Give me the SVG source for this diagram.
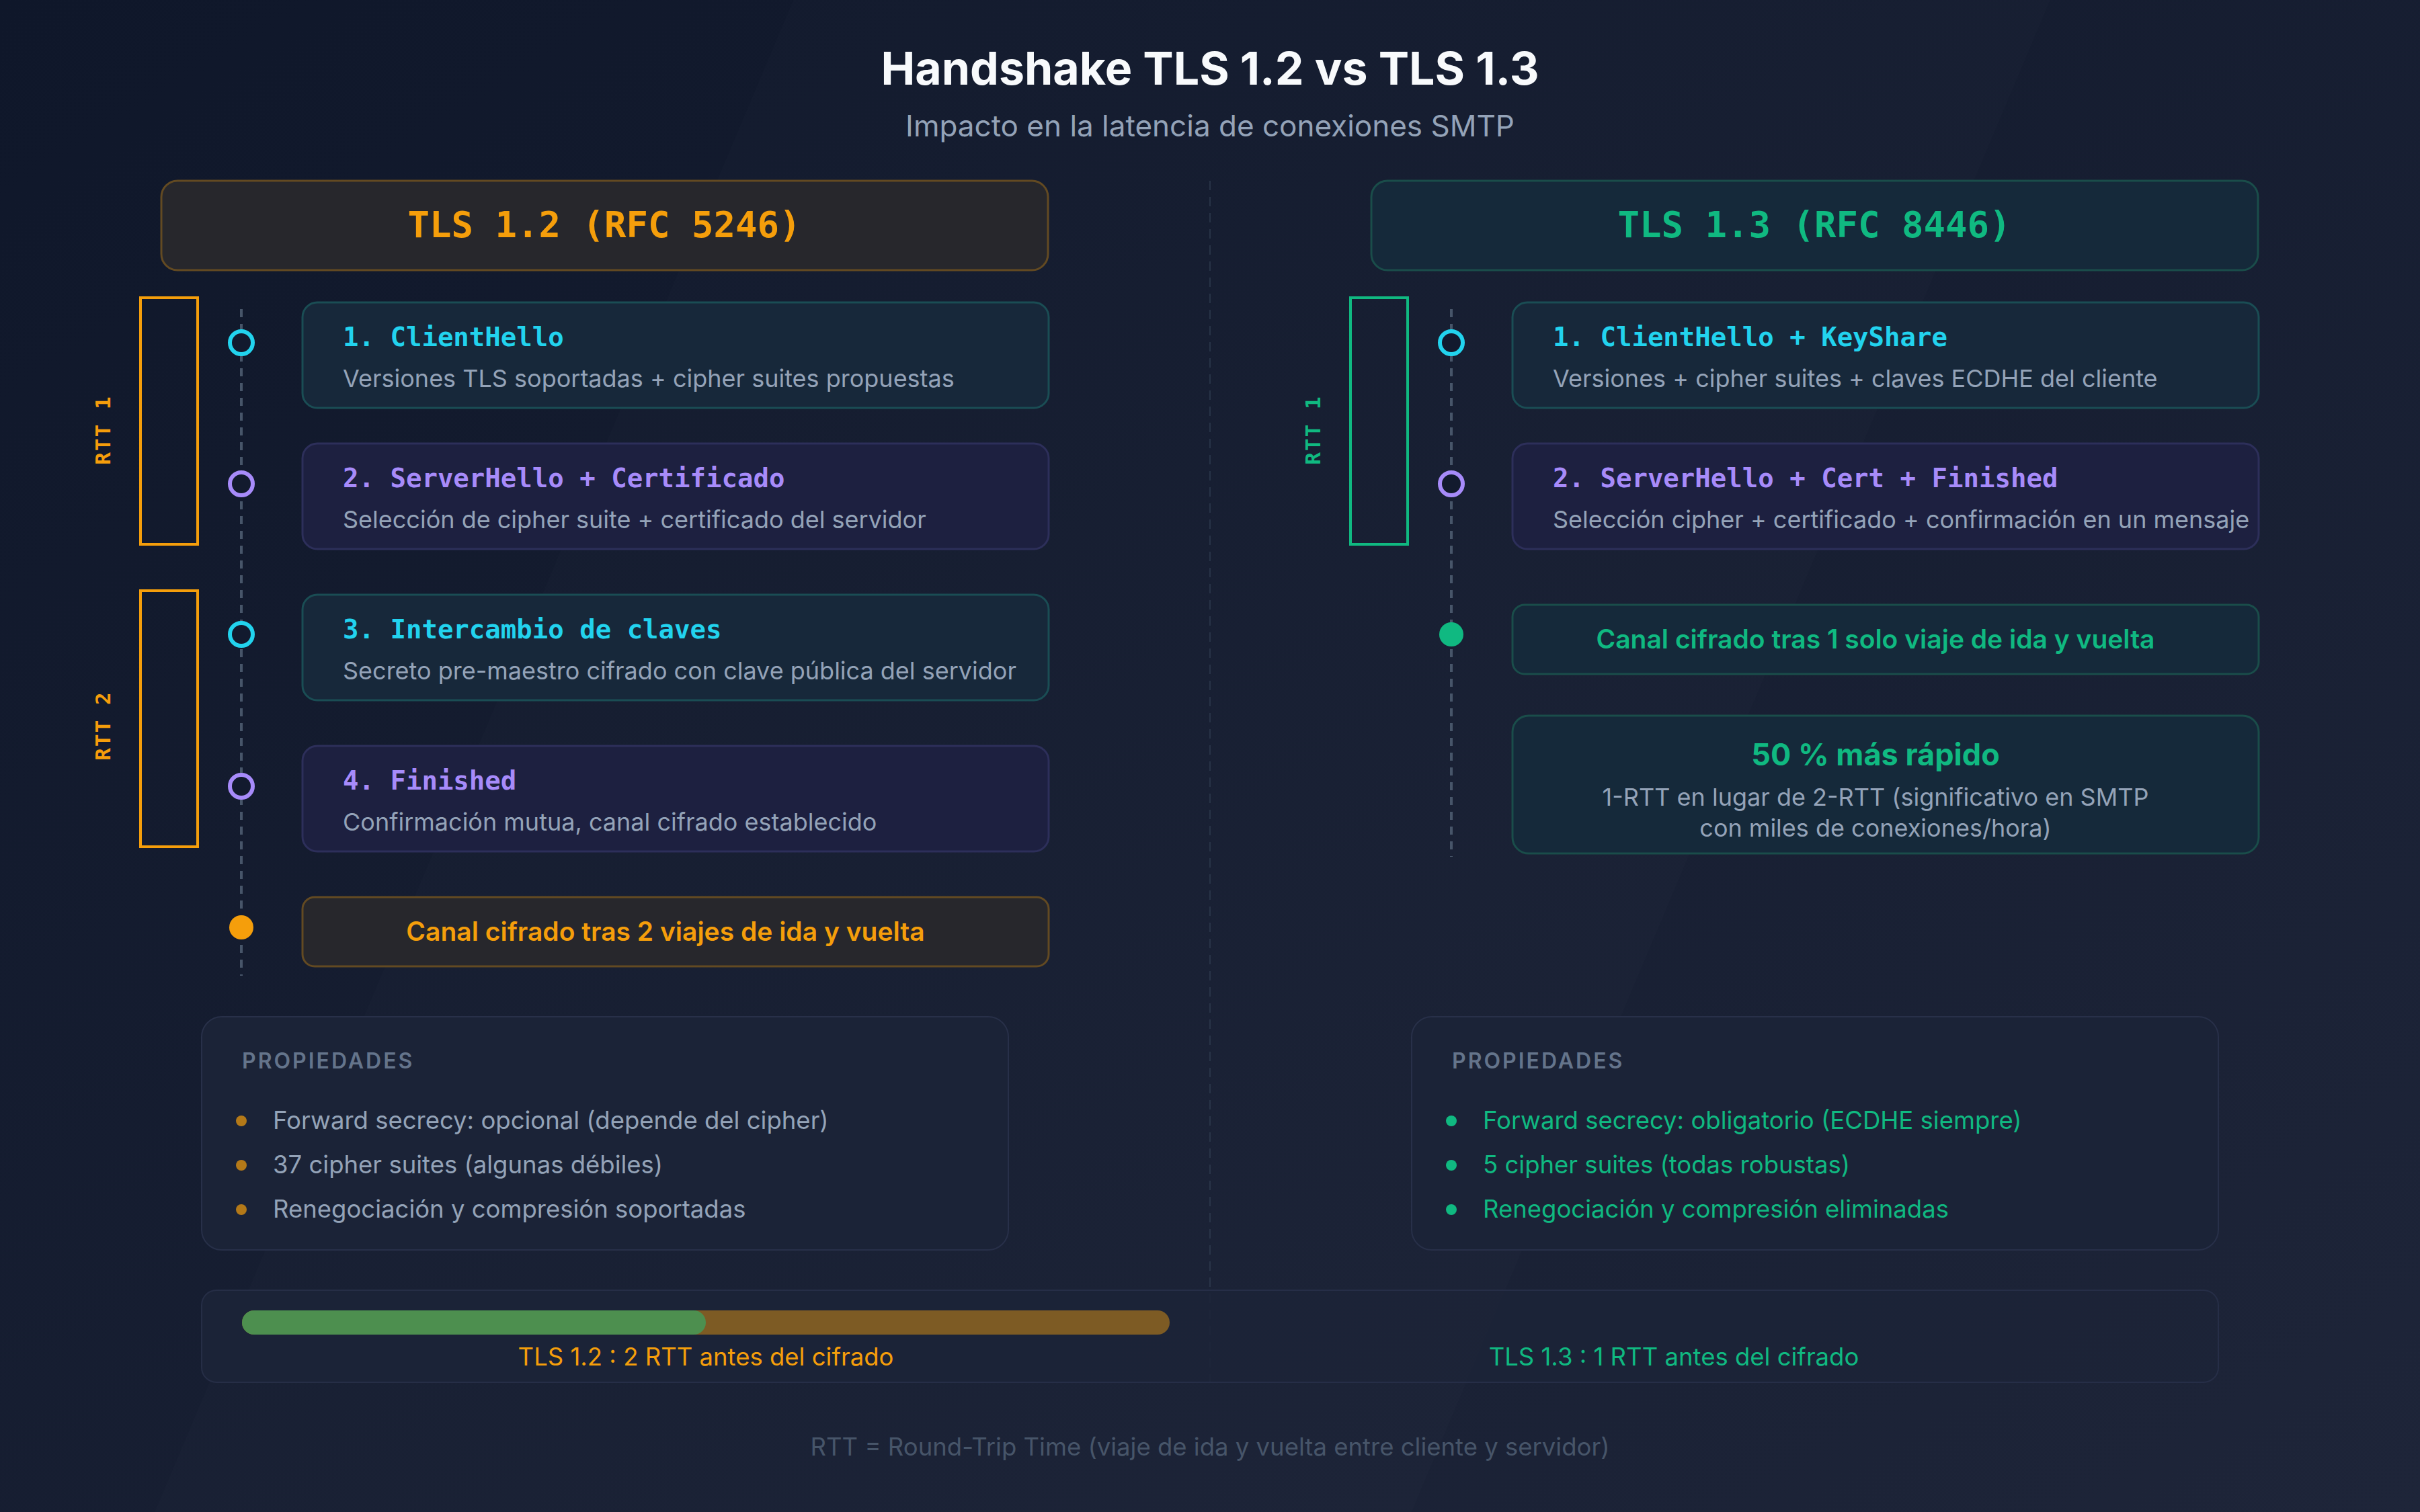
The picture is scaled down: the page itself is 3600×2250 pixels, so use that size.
<svg xmlns="http://www.w3.org/2000/svg" width="3600" height="2250" viewBox="0 0 3600 2250">
<defs>
<linearGradient id="bg" x1="0" y1="0" x2="1" y2="1">
<stop offset="0" stop-color="#0f172a"/>
<stop offset="1" stop-color="#1e2539"/>
</linearGradient>
<style>
.sans{font-family:Inter,"Noto Sans","Liberation Sans",sans-serif}
.mono{font-family:"DejaVu Sans Mono","Liberation Mono",monospace;font-weight:700}
.title{font-size:68px;font-weight:700;fill:#f8fafc}
.subtitle{font-size:44px;fill:#94a3b8}
.hdr{font-size:54px}
.step{font-size:39px}
.sub{font-size:36px;fill:#94a3b8}
.rtt{font-size:31px;letter-spacing:2px}
.cyanBox{fill:#17283a;stroke:#1a4d54;stroke-width:3}
.purpleBox{fill:#1d2040;stroke:#2d2f5a;stroke-width:3}
.orangeBox{fill:#27272c;stroke:#634a22;stroke-width:3}
.greenBox{fill:#15293a;stroke:#1a4d4a;stroke-width:3}
.props{fill:#1b2337;stroke:#283049;stroke-width:2}
.tl{stroke:#475569;stroke-width:4;stroke-dasharray:12 10}
.ring{fill:#121a2e;stroke-width:6}
.propTitle{font-size:32px;font-weight:600;fill:#64748b;letter-spacing:3px}
.item{font-size:36.5px}
.done{font-size:39px;font-weight:600}
</style>
</defs>
<rect width="3600" height="2250" fill="url(#bg)"/>
<polygon points="1180,0 3050,0 2100,2250 230,2250" fill="#ffffff" opacity="0.012"/>

<g id="title">
<text class="sans title" x="1800" y="126" text-anchor="middle">Handshake TLS 1.2 vs TLS 1.3</text>
<text class="sans subtitle" x="1800" y="203" text-anchor="middle">Impacto en la latencia de conexiones SMTP</text>
</g>

<g id="connectors">
<line x1="1800" y1="269" x2="1800" y2="2057" stroke="#334155" stroke-width="2" stroke-dasharray="14 10" opacity="0.6"/>
<line class="tl" x1="359" y1="460" x2="359" y2="1452"/>
<line class="tl" x1="2159" y1="460" x2="2159" y2="1275"/>
</g>

<g id="tls12-header">
<rect x="240" y="269" width="1319" height="133" rx="24" class="orangeBox"/>
<text class="mono hdr" x="899" y="353" text-anchor="middle" fill="#f59e0b">TLS 1.2 (RFC 5246)</text>
</g>
<g id="tls13-header">
<rect x="2040" y="269" width="1319" height="133" rx="24" class="greenBox"/>
<text class="mono hdr" x="2699" y="353" text-anchor="middle" fill="#10b981">TLS 1.3 (RFC 8446)</text>
</g>

<g id="tls12-rtt1">
<rect x="209" y="443" width="85" height="367" fill="none" stroke="#f59e0b" stroke-width="4"/>
<text class="mono rtt" x="0" y="0" transform="translate(164 640) rotate(-90)" text-anchor="middle" fill="#f59e0b">RTT 1</text>
</g>
<g id="tls12-rtt2">
<rect x="209" y="879" width="85" height="381" fill="none" stroke="#f59e0b" stroke-width="4"/>
<text class="mono rtt" x="0" y="0" transform="translate(164 1080) rotate(-90)" text-anchor="middle" fill="#f59e0b">RTT 2</text>
</g>
<g id="tls13-rtt1">
<rect x="2009" y="443" width="85" height="367" fill="none" stroke="#10b981" stroke-width="4"/>
<text class="mono rtt" x="0" y="0" transform="translate(1964 640) rotate(-90)" text-anchor="middle" fill="#10b981">RTT 1</text>
</g>

<g id="tls12-step1">
<circle cx="359" cy="510" r="17" class="ring" stroke="#22d3ee"/>
<rect x="450" y="450" width="1110" height="157" rx="22" class="cyanBox"/>
<text class="mono step" x="510" y="515" fill="#22d3ee">1. ClientHello</text>
<text class="sans sub" x="510" y="576">Versiones TLS soportadas + cipher suites propuestas</text>
</g>
<g id="tls12-step2">
<circle cx="359" cy="720" r="17" class="ring" stroke="#a78bfa"/>
<rect x="450" y="660" width="1110" height="157" rx="22" class="purpleBox"/>
<text class="mono step" x="510" y="725" fill="#a78bfa">2. ServerHello + Certificado</text>
<text class="sans sub" x="510" y="786">Selección de cipher suite + certificado del servidor</text>
</g>
<g id="tls12-step3">
<circle cx="359" cy="944" r="17" class="ring" stroke="#22d3ee"/>
<rect x="450" y="885" width="1110" height="157" rx="22" class="cyanBox"/>
<text class="mono step" x="510" y="950" fill="#22d3ee">3. Intercambio de claves</text>
<text class="sans sub" x="510" y="1011">Secreto pre-maestro cifrado con clave pública del servidor</text>
</g>
<g id="tls12-step4">
<circle cx="359" cy="1170" r="17" class="ring" stroke="#a78bfa"/>
<rect x="450" y="1110" width="1110" height="157" rx="22" class="purpleBox"/>
<text class="mono step" x="510" y="1175" fill="#a78bfa">4. Finished</text>
<text class="sans sub" x="510" y="1236">Confirmación mutua, canal cifrado establecido</text>
</g>
<g id="tls12-done">
<circle cx="359" cy="1380" r="18" fill="#f59e0b"/>
<rect x="450" y="1335" width="1110" height="103" rx="18" class="orangeBox"/>
<text class="sans done" x="990" y="1400" text-anchor="middle" fill="#f59e0b">Canal cifrado tras 2 viajes de ida y vuelta</text>
</g>

<g id="tls13-step1">
<circle cx="2159" cy="510" r="17" class="ring" stroke="#22d3ee"/>
<rect x="2250" y="450" width="1110" height="157" rx="22" class="cyanBox"/>
<text class="mono step" x="2310" y="515" fill="#22d3ee">1. ClientHello + KeyShare</text>
<text class="sans sub" x="2310" y="576">Versiones + cipher suites + claves ECDHE del cliente</text>
</g>
<g id="tls13-step2">
<circle cx="2159" cy="720" r="17" class="ring" stroke="#a78bfa"/>
<rect x="2250" y="660" width="1110" height="157" rx="22" class="purpleBox"/>
<text class="mono step" x="2310" y="725" fill="#a78bfa">2. ServerHello + Cert + Finished</text>
<text class="sans sub" x="2310" y="786">Selección cipher + certificado + confirmación en un mensaje</text>
</g>
<g id="tls13-done">
<circle cx="2159" cy="944" r="18" fill="#10b981"/>
<rect x="2250" y="900" width="1110" height="103" rx="18" class="greenBox"/>
<text class="sans done" x="2790" y="965" text-anchor="middle" fill="#10b981">Canal cifrado tras 1 solo viaje de ida y vuelta</text>
</g>
<g id="tls13-gain">
<rect x="2250" y="1065" width="1110" height="205" rx="24" class="greenBox"/>
<text class="sans" x="2790" y="1139" text-anchor="middle" fill="#10b981" font-size="45" font-weight="700">50 % más rápido</text>
<text class="sans sub" x="2790" y="1199" text-anchor="middle">1-RTT en lugar de 2-RTT (significativo en SMTP</text>
<text class="sans sub" x="2790" y="1245" text-anchor="middle">con miles de conexiones/hora)</text>
</g>

<g id="tls12-props">
<rect x="300" y="1513" width="1200" height="347" rx="30" class="props"/>
<text class="sans propTitle" x="360" y="1590">PROPIEDADES</text>
<circle cx="359" cy="1668" r="8" fill="#f59e0b" opacity="0.7"/>
<circle cx="359" cy="1734" r="8" fill="#f59e0b" opacity="0.7"/>
<circle cx="359" cy="1800" r="8" fill="#f59e0b" opacity="0.7"/>
<text class="sans item" x="406" y="1680" fill="#94a3b8">Forward secrecy: opcional (depende del cipher)</text>
<text class="sans item" x="406" y="1746" fill="#94a3b8">37 cipher suites (algunas débiles)</text>
<text class="sans item" x="406" y="1812" fill="#94a3b8">Renegociación y compresión soportadas</text>
</g>
<g id="tls13-props">
<rect x="2100" y="1513" width="1200" height="347" rx="30" class="props"/>
<text class="sans propTitle" x="2160" y="1590">PROPIEDADES</text>
<circle cx="2159" cy="1668" r="8" fill="#10b981"/>
<circle cx="2159" cy="1734" r="8" fill="#10b981"/>
<circle cx="2159" cy="1800" r="8" fill="#10b981"/>
<text class="sans item" x="2206" y="1680" fill="#10b981">Forward secrecy: obligatorio (ECDHE siempre)</text>
<text class="sans item" x="2206" y="1746" fill="#10b981">5 cipher suites (todas robustas)</text>
<text class="sans item" x="2206" y="1812" fill="#10b981">Renegociación y compresión eliminadas</text>
</g>

<g id="latency-bar">
<rect x="300" y="1920" width="3000" height="137" rx="22" fill="#1c2438" stroke="#283049" stroke-width="2" opacity="0.9"/>
<rect x="360" y="1950" width="1380" height="36" rx="18" fill="#7d5b24"/>
<rect x="360" y="1950" width="690" height="36" rx="18" fill="#4d8f4f"/>
<text class="sans item" x="1050" y="2032" text-anchor="middle" fill="#f59e0b">TLS 1.2 : 2 RTT antes del cifrado</text>
<text class="sans item" x="2490" y="2032" text-anchor="middle" fill="#10b981">TLS 1.3 : 1 RTT antes del cifrado</text>
</g>

<g id="footer">
<text class="sans item" x="1800" y="2166" text-anchor="middle" fill="#475569">RTT = Round-Trip Time (viaje de ida y vuelta entre cliente y servidor)</text>
</g>
</svg>
